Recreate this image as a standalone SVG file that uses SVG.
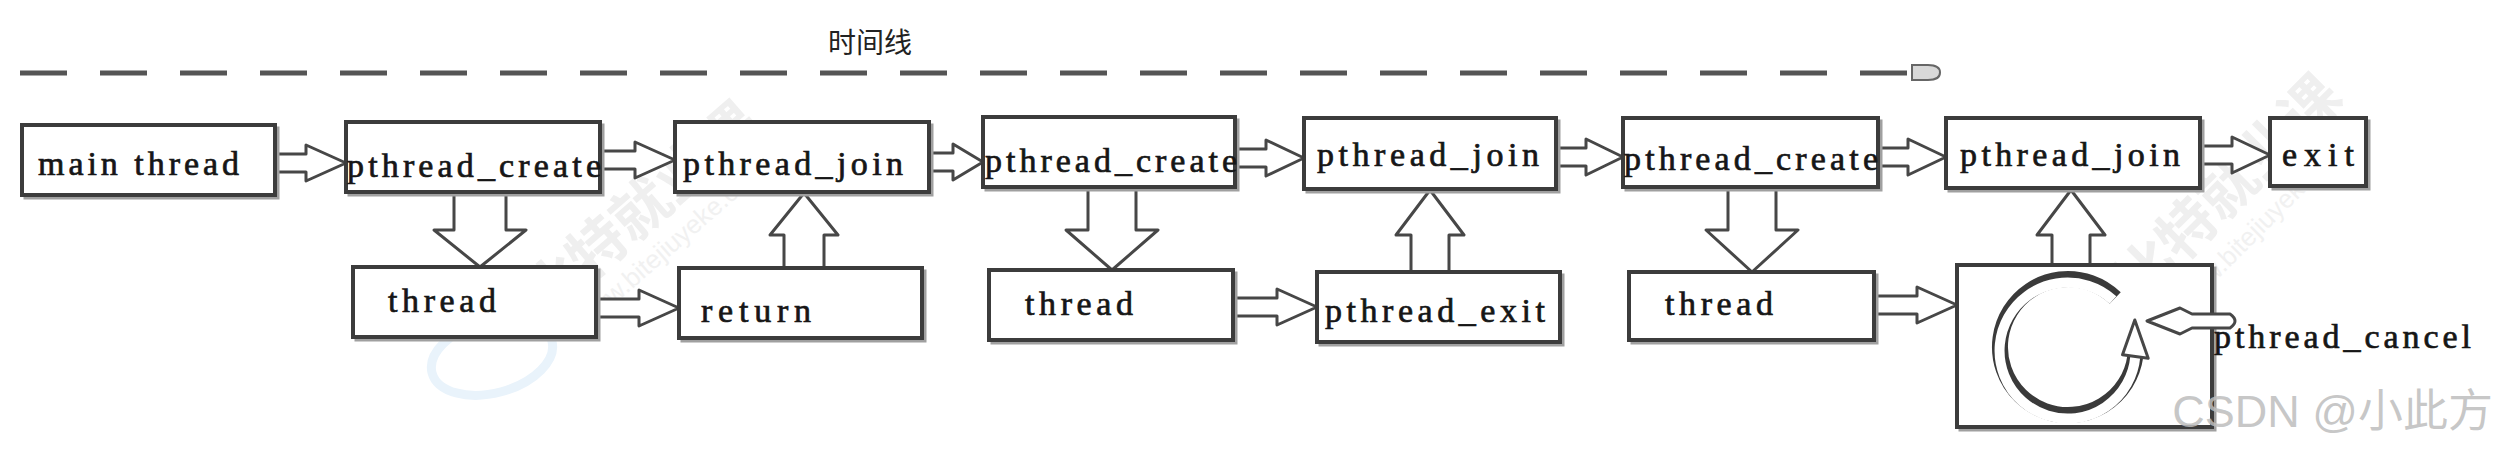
<svg xmlns="http://www.w3.org/2000/svg" width="2504" height="450" viewBox="0 0 2504 450">
<style>
.bg{fill:#ffffff}
.box{fill:#ffffff;stroke:#3c3c3c;stroke-width:4}
.shadow{fill:none;stroke:#a0a0a0;stroke-width:3}
.lbl{font-family:"Liberation Serif","DejaVu Serif",serif;font-size:34px;fill:#161616;stroke:#161616;stroke-width:0.7}
.arr{fill:#ffffff;stroke:#474747;stroke-width:3;stroke-linejoin:round}
.wm{font-family:"Noto Sans CJK SC","Liberation Sans",sans-serif;fill:#efefef;font-weight:bold}
.wmu{font-family:"Liberation Sans",sans-serif;fill:#f1f1f1}
</style>
<rect class="bg" x="0" y="0" width="2504" height="450"/>

<g id="watermarks">
  <ellipse cx="492" cy="357" rx="62" ry="36" transform="rotate(-15 492 357)" fill="none" stroke="#e9f3fb" stroke-width="9"/>
  <text class="wm" x="0" y="0" font-size="58" transform="translate(545 320) rotate(-41)">比特就业课</text>
  <text class="wmu" x="0" y="0" font-size="26" transform="translate(585 330) rotate(-41)">www.bitejiuyeke.com</text>
  <ellipse cx="2070" cy="345" rx="62" ry="38" transform="rotate(-15 2070 345)" fill="none" stroke="#e9f3fb" stroke-width="9"/>
  <text class="wm" x="0" y="0" font-size="58" transform="translate(2140 305) rotate(-45)">比特就业课</text>
  <text class="wmu" x="0" y="0" font-size="26" transform="translate(2185 312) rotate(-45)">www.bitejiuyeke.com</text>
</g>

<g id="timeline">
  <line x1="20" y1="73" x2="1912" y2="73" stroke="#555555" stroke-width="5" stroke-dasharray="47 33"/>
  <path d="M1912,65 H1928 Q1940,65 1940,72.5 Q1940,80 1928,80 H1912 Z" fill="#d8d8d8" stroke="#666666" stroke-width="2"/>
  <text x="828" y="53" font-family="Noto Sans CJK SC, sans-serif" font-size="28" fill="#222222">时间线</text>
</g>

<g id="connectors">
  <path class="arr" d="M275,154 H306 V145 L346,163 L306,181 V172 H275 Z"/>
  <path class="arr" d="M600,151 H635 V142 L675,160 L635,178 V169 H600 Z"/>
  <path class="arr" d="M929,153 H953 V144 L983,162 L953,180 V171 H929 Z"/>
  <path class="arr" d="M1235,149 H1266 V140 L1304,158 L1266,176 V167 H1235 Z"/>
  <path class="arr" d="M1556,148 H1586 V139 L1623,157 L1586,175 V166 H1556 Z"/>
  <path class="arr" d="M1878,148 H1908 V139 L1946,157 L1908,175 V166 H1878 Z"/>
  <path class="arr" d="M2200,146 H2232 V137 L2270,155 L2232,173 V164 H2200 Z"/>
  <path class="arr" d="M596,299 H639 V290 L679,308 L639,326 V317 H596 Z"/>
  <path class="arr" d="M1233,298 H1277 V289 L1317,307 L1277,325 V316 H1233 Z"/>
  <path class="arr" d="M1874,296 H1917 V287 L1957,305 L1917,323 V314 H1874 Z"/>
  <path class="arr" d="M454,192 V230 H434 L480,267 L526,230 H506 V192 Z"/>
  <path class="arr" d="M1088,187 V230 H1066 L1112,270 L1158,230 H1136 V187 Z"/>
  <path class="arr" d="M1728,187 V230 H1706 L1752,272 L1798,230 H1776 V187 Z"/>
  <path class="arr" d="M784,268 V235 H770 L804,193 L838,235 H824 V268 Z"/>
  <path class="arr" d="M1411,272 V235 H1396 L1430,190 L1464,235 H1449 V272 Z"/>
  <path class="arr" d="M2052,265 V235 H2037 L2071,190 L2105,235 H2090 V265 Z"/>
</g>

<g id="main_thread">
  <rect class="shadow" x="25" y="128" width="253" height="70"/>
  <rect class="box" x="22" y="125" width="253" height="70"/>
  <text class="lbl" x="38" y="175" textLength="201" lengthAdjust="spacing">main thread</text>
</g>
<g id="pthread_create_1">
  <rect class="shadow" x="349" y="125" width="254" height="70"/>
  <rect class="box" x="346" y="122" width="254" height="70"/>
  <text class="lbl" x="347" y="177" textLength="254" lengthAdjust="spacing">pthread_create</text>
</g>
<g id="pthread_join_1">
  <rect class="shadow" x="678" y="125" width="254" height="70"/>
  <rect class="box" x="675" y="122" width="254" height="70"/>
  <text class="lbl" x="683" y="175" textLength="220" lengthAdjust="spacing">pthread_join</text>
</g>
<g id="pthread_create_2">
  <rect class="shadow" x="986" y="120" width="252" height="70"/>
  <rect class="box" x="983" y="117" width="252" height="70"/>
  <text class="lbl" x="985" y="172" textLength="252" lengthAdjust="spacing">pthread_create</text>
</g>
<g id="pthread_join_2">
  <rect class="shadow" x="1307" y="121" width="252" height="71"/>
  <rect class="box" x="1304" y="118" width="252" height="71"/>
  <text class="lbl" x="1317" y="166" textLength="222" lengthAdjust="spacing">pthread_join</text>
</g>
<g id="pthread_create_3">
  <rect class="shadow" x="1626" y="121" width="255" height="69"/>
  <rect class="box" x="1623" y="118" width="255" height="69"/>
  <text class="lbl" x="1624" y="170" textLength="254" lengthAdjust="spacing">pthread_create</text>
</g>
<g id="pthread_join_3">
  <rect class="shadow" x="1949" y="121" width="254" height="70"/>
  <rect class="box" x="1946" y="118" width="254" height="70"/>
  <text class="lbl" x="1960" y="166" textLength="220" lengthAdjust="spacing">pthread_join</text>
</g>
<g id="exit">
  <rect class="shadow" x="2273" y="121" width="96" height="68"/>
  <rect class="box" x="2270" y="118" width="96" height="68"/>
  <text class="lbl" x="2282" y="166" textLength="72" lengthAdjust="spacing">exit</text>
</g>
<g id="thread_1">
  <rect class="shadow" x="356" y="270" width="243" height="70"/>
  <rect class="box" x="353" y="267" width="243" height="70"/>
  <text class="lbl" x="388" y="312" textLength="108" lengthAdjust="spacing">thread</text>
</g>
<g id="return">
  <rect class="shadow" x="682" y="271" width="243" height="70"/>
  <rect class="box" x="679" y="268" width="243" height="70"/>
  <text class="lbl" x="701" y="322" textLength="110" lengthAdjust="spacing">return</text>
</g>
<g id="thread_2">
  <rect class="shadow" x="992" y="273" width="244" height="70"/>
  <rect class="box" x="989" y="270" width="244" height="70"/>
  <text class="lbl" x="1025" y="315" textLength="108" lengthAdjust="spacing">thread</text>
</g>
<g id="pthread_exit">
  <rect class="shadow" x="1320" y="275" width="243" height="70"/>
  <rect class="box" x="1317" y="272" width="243" height="70"/>
  <text class="lbl" x="1325" y="322" textLength="220" lengthAdjust="spacing">pthread_exit</text>
</g>
<g id="thread_3">
  <rect class="shadow" x="1632" y="275" width="245" height="68"/>
  <rect class="box" x="1629" y="272" width="245" height="68"/>
  <text class="lbl" x="1665" y="315" textLength="108" lengthAdjust="spacing">thread</text>
</g>
<g id="cancel_box">
  <rect class="shadow" x="1960" y="268" width="255" height="162"/>
  <rect class="box" x="1957" y="265" width="255" height="162"/>
  <path d="M2115.2,298.1 A68,68 0 1 0 2135.3,356.5" fill="none" stroke="#3a3a3a" stroke-width="16" stroke-linecap="butt"/>
  <path d="M2113,300 A68,68 0 1 0 2135.3,356.5" fill="none" stroke="#ffffff" stroke-width="10"/>
  <path class="arr" d="M2122.5,354.7 L2134.8,320 L2148.2,358.3 Z"/>
</g>
<g id="pthread_cancel">
  <path class="arr" d="M2230,314 H2192 L2180,308 L2147,321 L2180,334 L2192,328 H2230 Q2240,321 2230,314 Z"/>
  <text class="lbl" x="2214" y="348" textLength="257" lengthAdjust="spacing">pthread_cancel</text>
</g>

<text x="2493" y="427" text-anchor="end" font-family="Liberation Sans, Noto Sans CJK SC, sans-serif" font-size="45" fill="#bdbdbd" fill-opacity="0.85">CSDN @小此方</text>
</svg>
